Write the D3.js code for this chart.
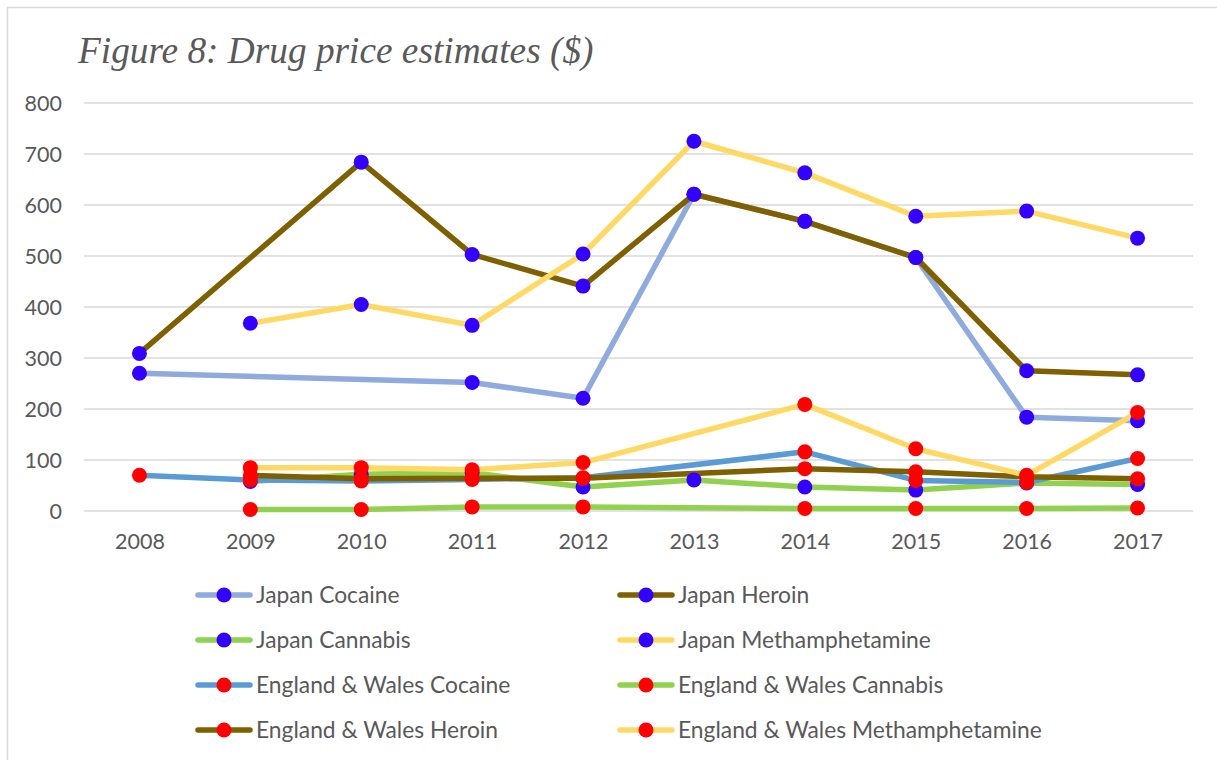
<!DOCTYPE html>
<html>
<head>
<meta charset="utf-8">
<script src="https://cdn.jsdelivr.net/npm/d3@7"></script>
<style>
  html, body { margin: 0; padding: 0; background: #fff; }
  svg { display: block; }
</style>
</head>
<body>
<svg id="chart" width="1217" height="760"></svg>
<script>
// Years on the category axis
const years = ["2008", "2009", "2010", "2011", "2012", "2013", "2014", "2015", "2016", "2017"];
const yTicks = [0, 100, 200, 300, 400, 500, 600, 700, 800];

// Price estimates in US dollars (null = no estimate that year)
const japanCocaine        = [270, null, null, 252, 221, 621, 568, 497, 184, 177];
const japanHeroin         = [309, null, 684, 503, 441, 621, 568, 497, 275, 267];
const japanCannabis       = [null, 58, 72, 75, 47, 61, 47, 41, 55, 52];
const japanMeth           = [null, 368, 405, 364, 504, 725, 663, 578, 588, 535];
const ewCocaine           = [70, 61, 59, 62, 65, null, 116, 60, 56, 103];
const ewCannabis          = [null, 3, 3, 8, 8, null, 5, 5, 5, 6];
const ewHeroin            = [null, 70, 63, 64, 64, null, 83, 77, 67, 63];
const ewMeth              = [null, 85, 85, 81, 95, null, 209, 122, 70, 193];

const seriesNames = [
  "Japan Cocaine", "Japan Heroin", "Japan Cannabis", "Japan Methamphetamine",
  "England & Wales Cocaine", "England & Wales Cannabis", "England & Wales Heroin", "England & Wales Methamphetamine"
];
const seriesValues = [japanCocaine, japanHeroin, japanCannabis, japanMeth, ewCocaine, ewCannabis, ewHeroin, ewMeth];
const lineColors = ["#8FAADC", "#7F6000", "#92D050", "#FFD966", "#5B9BD5", "#92D050", "#7F6000", "#FFD966"];
const markerColors = ["#3300FF", "#3300FF", "#3300FF", "#3300FF", "#FF0000", "#FF0000", "#FF0000", "#FF0000"];

const series = seriesNames.map((name, i) => ({
  name,
  line: lineColors[i],
  marker: markerColors[i],
  points: years.map((yr, j) => ({ year: yr, value: seriesValues[i][j] })).filter(d => d.value !== null)
}));

const svg = d3.select("#chart");
const textColor = "#595959";
const font = "Lato, 'Open Sans', sans-serif";

// Chart frame
svg.append("rect")
  .attr("x", 7.5).attr("y", 7.5)
  .attr("width", 1240).attr("height", 800)
  .attr("fill", "#fff")
  .attr("stroke", "#D9D9D9").attr("stroke-width", 1.5);

// Title
svg.append("text")
  .attr("x", 78).attr("y", 63)
  .attr("font-family", "'Liberation Serif', 'Times New Roman', serif")
  .attr("font-style", "italic")
  .attr("font-size", 37.3)
  .attr("fill", textColor)
  .text("Figure 8: Drug price estimates ($)");

// Scales
const plotLeft = 84, plotRight = 1193, plotTop = 103, plotBottom = 511;
const x = d3.scalePoint().domain(years).range([plotLeft, plotRight]).padding(0.5);
const y = d3.scaleLinear().domain([0, 800]).range([plotBottom, plotTop]);

// Horizontal gridlines
svg.append("g")
  .selectAll("line")
  .data(yTicks)
  .join("line")
  .attr("x1", plotLeft).attr("x2", plotRight)
  .attr("y1", d => y(d)).attr("y2", d => y(d))
  .attr("stroke", "#D9D9D9").attr("stroke-width", 1.5);

// Y axis labels
const yAxis = svg.append("g")
  .attr("transform", `translate(${plotLeft - 22},0)`)
  .call(d3.axisLeft(y).tickValues(yTicks).tickSize(0).tickPadding(0));
yAxis.select(".domain").remove();
yAxis.selectAll("text")
  .attr("font-family", font).attr("font-size", 21.5)
  .attr("fill", textColor).attr("dy", "0.36em");

// X axis labels
const xAxis = svg.append("g")
  .attr("transform", `translate(0,${plotBottom + 19})`)
  .call(d3.axisBottom(x).tickSize(0).tickPadding(0));
xAxis.select(".domain").remove();
xAxis.selectAll("text")
  .attr("font-family", font).attr("font-size", 21.5)
  .attr("fill", textColor).attr("dy", "0.9em");

// Lines (gaps are bridged between available years)
const line = d3.line().x(d => x(d.year)).y(d => y(d.value));
svg.append("g")
  .selectAll("path")
  .data(series)
  .join("path")
  .attr("d", d => line(d.points))
  .attr("fill", "none")
  .attr("stroke", d => d.line)
  .attr("stroke-width", 5.5)
  .attr("stroke-linejoin", "round");

// Markers
const markerGroups = svg.append("g")
  .selectAll("g")
  .data(series)
  .join("g")
  .attr("fill", d => d.marker);
markerGroups.selectAll("circle")
  .data(d => d.points)
  .join("circle")
  .attr("cx", d => x(d.year))
  .attr("cy", d => y(d.value))
  .attr("r", 7.5);

// Legend: two columns, four rows
const legendCols = [198, 620];
const legendRows = [595, 640, 685, 730];
const legend = svg.append("g")
  .selectAll("g")
  .data(series)
  .join("g")
  .attr("transform", (d, i) => `translate(${legendCols[i % 2]},${legendRows[Math.floor(i / 2)]})`);
legend.append("line")
  .attr("x1", 0).attr("x2", 52)
  .attr("stroke", d => d.line).attr("stroke-width", 5.5)
  .attr("stroke-linecap", "round");
legend.append("circle")
  .attr("cx", 26).attr("r", 7.5)
  .attr("fill", d => d.marker);
legend.append("text")
  .attr("x", 58).attr("dy", "0.36em")
  .attr("font-family", font).attr("font-size", 22.8)
  .attr("fill", textColor)
  .text(d => d.name);
</script>
</body>
</html>
